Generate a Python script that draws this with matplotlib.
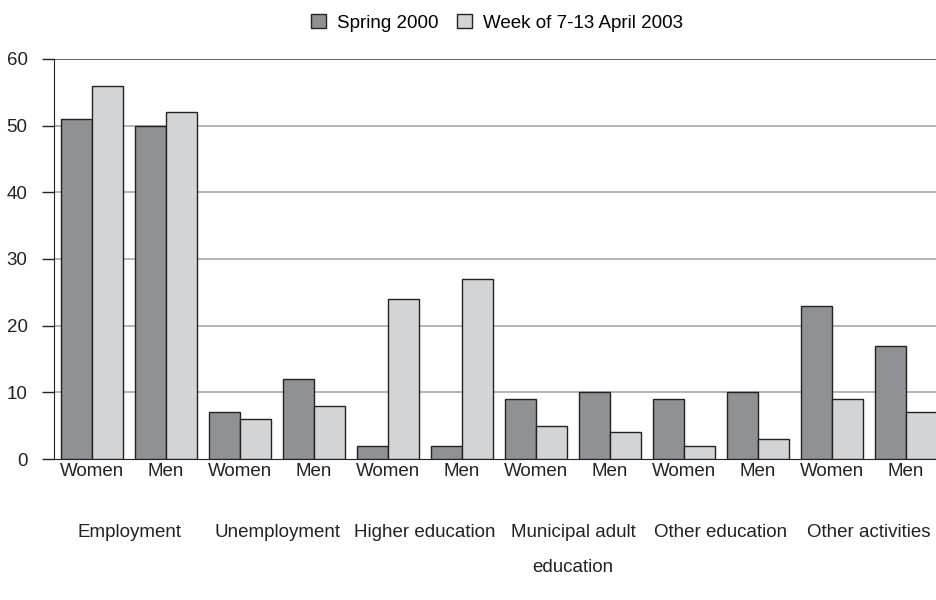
import numpy as np
import matplotlib.pyplot as plt

plt.rcParams['font.family'] = ['Liberation Sans', 'DejaVu Sans']

# data
categories = ["Employment", "Unemployment", "Higher education",
              "Municipal adult\neducation", "Other education", "Other activities"]
sexes = ["Women", "Men"]
spring_2000 = [51, 50, 7, 12, 2, 2, 9, 10, 9, 10, 23, 17]
week_2003 = [56, 52, 6, 8, 24, 27, 5, 4, 2, 3, 9, 7]
series_names = ["Spring 2000", "Week of 7-13 April 2003"]

fig = plt.figure(figsize=(9.36, 6), dpi=100)
ax = fig.add_axes([0.0577, 0.235, 0.9423, 0.6667])

n = len(spring_2000)
x = np.arange(n)
w = 0.42
ax.bar(x - w / 2, spring_2000, w, color="#909195", edgecolor="#222222",
       linewidth=1.0, label=series_names[0], zorder=3)
ax.bar(x + w / 2, week_2003, w, color="#d3d4d6", edgecolor="#222222",
       linewidth=1.0, label=series_names[1], zorder=3)

ax.set_xlim(-0.515, 11.405)
ax.set_ylim(0, 60)
ax.set_yticks(range(0, 61, 10))
ax.tick_params(axis='y', length=9, width=1, labelsize=13.5, pad=10, colors="#222222")
for v in range(10, 60, 10):
    ax.axhline(v, color="#a8a8a8", linewidth=1.2, zorder=1)
ax.axhline(60, color="#444444", linewidth=1.2, zorder=1)

ax.set_xticks(x)
ax.set_xticklabels(sexes * len(categories), fontsize=13.5, color="#222222")
ax.tick_params(axis='x', length=0, pad=3)

for i, cat in enumerate(categories):
    ax.text(2 * i + 0.5, -9.7, cat, ha='center', va='top', fontsize=13.5,
            color="#222222", linespacing=2.4, transform=ax.transData)

for s in ["top", "right"]:
    ax.spines[s].set_visible(False)
ax.spines["left"].set_color("#222222")
ax.spines["bottom"].set_color("#222222")

fig.legend(loc='center', bbox_to_anchor=(0.531, 0.962), ncol=2, frameon=False,
           fontsize=13.5, handlelength=0.8, handleheight=0.8, handletextpad=0.6,
           columnspacing=1.0)

fig.savefig("out.png", dpi=100)
